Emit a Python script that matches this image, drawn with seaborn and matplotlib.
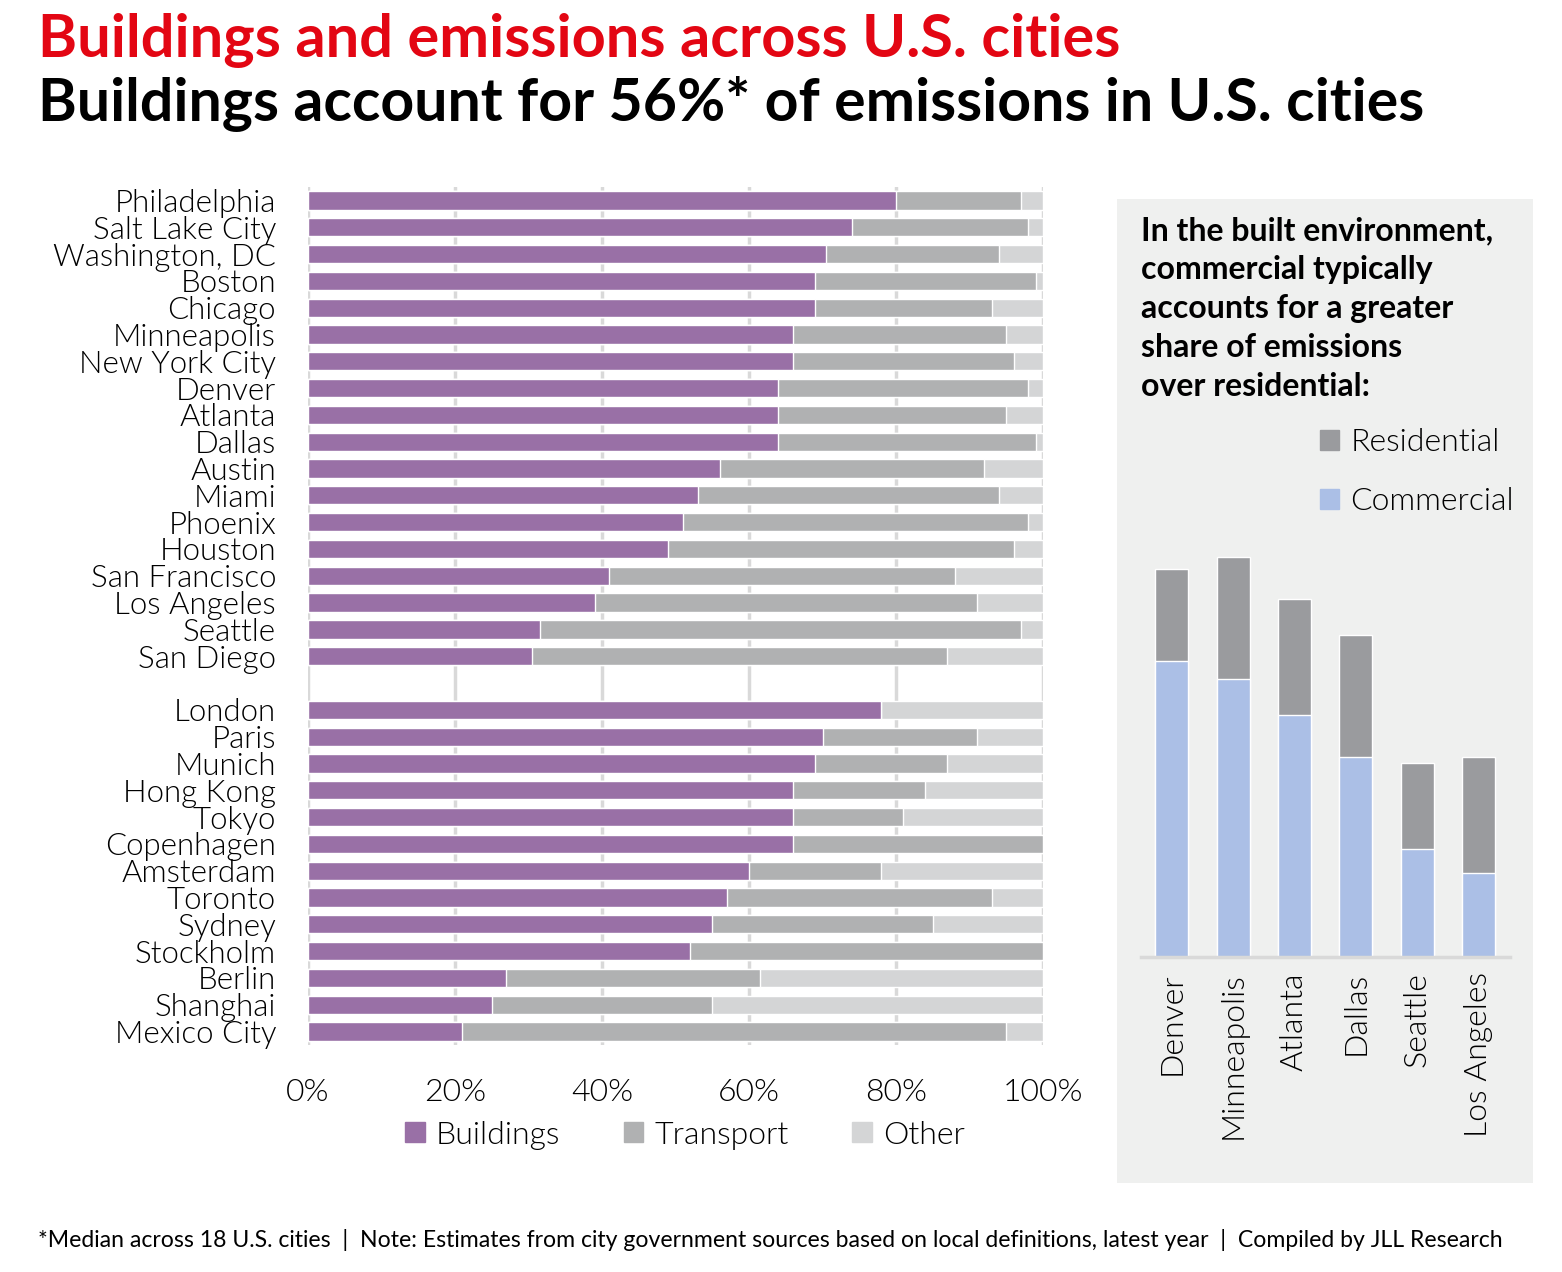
import pandas as pd
import seaborn as sns
import matplotlib.pyplot as plt
from matplotlib.patches import Patch

# City emissions shares (%)
us_cities = ['Philadelphia', 'Salt Lake City', 'Washington, DC', 'Boston', 'Chicago',
             'Minneapolis', 'New York City', 'Denver', 'Atlanta', 'Dallas', 'Austin',
             'Miami', 'Phoenix', 'Houston', 'San Francisco', 'Los Angeles', 'Seattle',
             'San Diego']
us_buildings = [80, 74, 70.5, 69, 69, 66, 66, 64, 64, 64, 56, 53, 51, 49, 41, 39, 31.5, 30.5]
us_transport = [17, 24, 23.5, 30, 24, 29, 30, 34, 31, 35, 36, 41, 47, 47, 47, 52, 65.5, 56.5]

world_cities = ['London', 'Paris', 'Munich', 'Hong Kong', 'Tokyo', 'Copenhagen',
                'Amsterdam', 'Toronto', 'Sydney', 'Stockholm', 'Berlin', 'Shanghai',
                'Mexico City']
world_buildings = [78, 70, 69, 66, 66, 66, 60, 57, 55, 52, 27, 25, 21]
world_transport = [0, 21, 18, 18, 15, 34, 18, 36, 30, 48, 34.5, 30, 74]

# Commercial vs residential (chart units, no axis shown)
built_cities = ['Denver', 'Minneapolis', 'Atlanta', 'Dallas', 'Seattle', 'Los Angeles']
commercial = [74, 69.5, 60.5, 50, 27, 21]
residential = [23, 30.5, 29, 30.5, 21.5, 29]

c_build = '#9970a6'
c_trans = '#b0b1b2'
c_other = '#d4d5d6'
c_resid = '#9a9b9e'
c_comm = '#abbfe6'
panel_bg = '#eff0ef'
grid_c = '#d9d9d9'

df = pd.DataFrame({
    'city': us_cities + world_cities,
    'buildings': us_buildings + world_buildings,
    'transport': us_transport + world_transport,
})
df['bt'] = df['buildings'] + df['transport']
df['total'] = 100
order = us_cities + [' '] + world_cities

sns.set_theme(style='white')
plt.rcParams['font.family'] = ['Lato', 'DejaVu Sans']
plt.rcParams['text.color'] = 'black'
plt.rcParams['xtick.color'] = 'black'
plt.rcParams['ytick.color'] = 'black'

LIGHT = 300
fig = plt.figure(figsize=(15.62, 12.72), dpi=100)

# ---- left stacked bar chart ----
ax = fig.add_axes([308 / 1562, 1 - 1045 / 1272, 735 / 1562, 858 / 1272])
for col, colr in [('total', c_other), ('bt', c_trans), ('buildings', c_build)]:
    sns.barplot(data=df, y='city', x=col, order=order, color=colr, orient='h',
                width=0.68, saturation=1, ax=ax, zorder=3)
ax.set_xlim(0, 100)
ax.set_xticks([0, 20, 40, 60, 80, 100])
ax.set_xticklabels([f'{v}%' for v in range(0, 101, 20)])
for v in range(0, 101, 20):
    ax.axvline(v, color=grid_c, lw=2.5, zorder=1)
for s in ax.spines.values():
    s.set_visible(False)
ax.set_xlabel('')
ax.set_ylabel('')
ax.tick_params(axis='y', length=0, pad=23, labelsize=22.5)
ax.tick_params(axis='x', length=0, pad=24, labelsize=23)
for lab in ax.get_yticklabels() + ax.get_xticklabels():
    lab.set_fontweight(LIGHT)

leg_handles = [Patch(color=c_build, label='Buildings'),
               Patch(color=c_trans, label='Transport'),
               Patch(color=c_other, label='Other')]
fig.legend(handles=leg_handles, loc='center', bbox_to_anchor=(685 / 1562, 1 - 1135 / 1272),
           ncol=3, frameon=False, handlelength=0.6, handleheight=0.6,
           handletextpad=0.35, columnspacing=2.0, prop={'weight': LIGHT, 'size': 23})

# ---- right panel ----
bg = fig.add_axes([1117 / 1562, 1 - 1183 / 1272, 416 / 1562, 984 / 1272])
bg.set_facecolor(panel_bg)
bg.set_xticks([])
bg.set_yticks([])
for s in bg.spines.values():
    s.set_visible(False)

fig.text(1141 / 1562, 1 - 216 / 1272,
         'In the built environment,\ncommercial typically\naccounts for a greater\n'
         'share of emissions\nover residential:',
         fontsize=23, fontweight='bold', va='top', ha='left', linespacing=1.42)

bg.legend(handles=[Patch(color=c_resid, label='Residential'),
                   Patch(color=c_comm, label='Commercial')],
          loc='upper left', bbox_to_anchor=(1304 / 1562, 1 - 412 / 1272),
          bbox_transform=fig.transFigure, frameon=False,
          prop={'weight': LIGHT, 'size': 23}, handlelength=0.6, handleheight=0.6,
          handletextpad=0.35, labelspacing=0.95, borderpad=0)

bdf = pd.DataFrame({'city': built_cities, 'commercial': commercial, 'residential': residential})
bdf['total'] = bdf['commercial'] + bdf['residential']
ax2 = fig.add_axes([1141 / 1562, 1 - 957 / 1272, 369 / 1562, 420 / 1272])
ax2.patch.set_alpha(0)
sns.barplot(data=bdf, x='city', y='total', color=c_resid, width=0.54, saturation=1, ax=ax2)
sns.barplot(data=bdf, x='city', y='commercial', color=c_comm, width=0.54, saturation=1, ax=ax2)
ax2.set_xlim(-0.5, 5.51)
ax2.set_ylim(0, 105)
ax2.set_yticks([])
ax2.set_xlabel('')
ax2.set_ylabel('')
for k in ['top', 'left', 'right']:
    ax2.spines[k].set_visible(False)
ax2.spines['bottom'].set_color(grid_c)
ax2.spines['bottom'].set_linewidth(2.5)
ax2.tick_params(axis='x', length=0, pad=11, labelsize=23, rotation=90)
for lab in ax2.get_xticklabels():
    lab.set_fontweight(LIGHT)

# ---- titles and footer ----
fig.text(38 / 1562, 1 - 40 / 1272, 'Buildings and emissions across U.S. cities',
         color='#e30613', fontsize=42.8, fontweight='bold', va='center', ha='left')
fig.text(38 / 1562, 1 - 104 / 1272, 'Buildings account for 56%* of emissions in U.S. cities',
         color='black', fontsize=42.5, fontweight='bold', va='center', ha='left')
fig.text(38 / 1562, 1 - 1240 / 1272,
         '*Median across 18 U.S. cities  |  Note: Estimates from city government sources based on '
         'local definitions, latest year  |  Compiled by JLL Research',
         fontsize=16.6, va='center', ha='left')

fig.savefig('out.png', dpi=100, facecolor='white')
